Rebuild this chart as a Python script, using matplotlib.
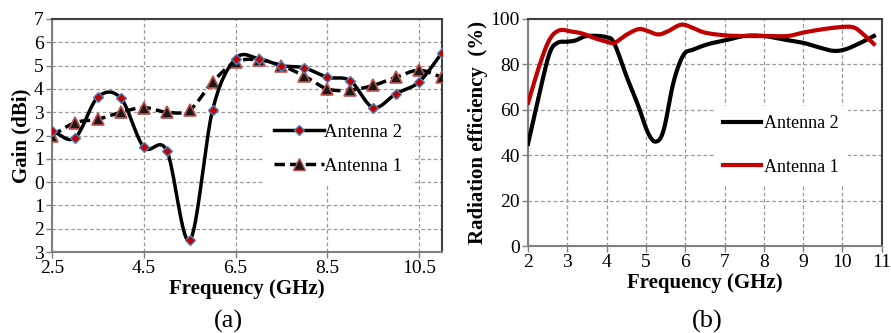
import numpy as np
import matplotlib
matplotlib.use('Agg')
import matplotlib.pyplot as plt
from matplotlib.lines import Line2D

plt.rcParams['font.family'] = ['Liberation Serif', 'DejaVu Serif']

# (a) gain data, every 0.5 GHz
freq_a = [2.5, 3.0, 3.5, 4.0, 4.5, 5.0, 5.5, 6.0, 6.5, 7.0, 7.5, 8.0, 8.5, 9.0, 9.5, 10.0, 10.5, 11.0]
gain_ant2 = [2.2, 1.9, 3.65, 3.6, 1.5, 1.35, -2.5, 3.1, 5.3, 5.3, 5.0, 4.9, 4.5, 4.35, 3.2, 3.8, 4.3, 5.55]
gain_ant1 = [2.0, 2.55, 2.7, 3.0, 3.2, 3.0, 3.1, 4.3, 5.15, 5.25, 5.0, 4.55, 4.0, 3.95, 4.15, 4.5, 4.8, 4.5]
gain_ticks = [-3, -2, -1, 0, 1, 2, 3, 4, 5, 6, 7]
gain_ticklabels = ['3', '2', '1', '0', '1', '2', '3', '4', '5', '6', '7']
freq_a_ticks = [2.5, 4.5, 6.5, 8.5, 10.5]

# (b) radiation efficiency
freq_b2 = [2.0, 2.3, 2.55, 2.75, 3.0, 3.2, 3.5, 4.0, 4.2, 4.5, 4.8, 5.05, 5.25, 5.45, 5.7, 5.95, 6.2, 6.6, 7.0, 7.5, 8.0, 8.5, 9.0, 9.4, 9.75, 10.05, 10.4, 10.8]
eff_ant2 = [45, 68, 85, 89.5, 90, 90.5, 92.5, 92, 89, 75, 62, 50, 46, 51, 72, 84, 86.5, 89, 90.5, 92.5, 92.5, 91, 89.5, 87.5, 86, 86.5, 89, 92.5]
freq_b1 = [2.0, 2.3, 2.55, 2.8, 3.1, 3.4, 3.7, 4.0, 4.2, 4.5, 4.8, 5.0, 5.3, 5.55, 5.9, 6.2, 6.5, 7.0, 7.5, 8.0, 8.6, 9.0, 9.5, 10.0, 10.3, 10.55, 10.8]
eff_ant1 = [63, 80, 91, 95, 94.5, 93.5, 91.5, 90, 89.5, 93, 95.5, 95, 93.2, 94.5, 97.5, 96, 94, 92.8, 92.5, 92.5, 92.5, 94, 95.5, 96.5, 96.2, 93, 89]


def smooth(x, y, n=20):
    # Catmull-Rom spline through the points (like Excel smoothed lines)
    x = np.asarray(x, float)
    y = np.asarray(y, float)
    px = np.concatenate([[2 * x[0] - x[1]], x, [2 * x[-1] - x[-2]]])
    py = np.concatenate([[2 * y[0] - y[1]], y, [2 * y[-1] - y[-2]]])
    xs, ys = [], []
    t = np.linspace(0, 1, n, endpoint=False)
    for i in range(1, len(px) - 2):
        for p, out in ((px, xs), (py, ys)):
            p0, p1, p2, p3 = p[i - 1], p[i], p[i + 1], p[i + 2]
            out.append(0.5 * (2 * p1 + (-p0 + p2) * t + (2 * p0 - 5 * p1 + 4 * p2 - p3) * t ** 2
                              + (-p0 + 3 * p1 - 3 * p2 + p3) * t ** 3))
    xs.append([x[-1]])
    ys.append([y[-1]])
    return np.concatenate(xs), np.concatenate(ys)


def style_axes(ax):
    ax.grid(True, color='#9a9a9a', linestyle=(0, (3, 2)), linewidth=0.9)
    ax.set_axisbelow(True)
    for s in ('left', 'bottom'):
        ax.spines[s].set_color('#808080')
        ax.spines[s].set_linewidth(1.5)
    for s in ('top', 'right'):
        ax.spines[s].set_color('#404040')
        ax.spines[s].set_linewidth(1.5)
    ax.tick_params(direction='out', length=4, width=1, color='#808080', labelsize=14, pad=2)


fig = plt.figure(figsize=(8.91, 3.33), dpi=100)

# ---- (a) Gain ----
ax1 = fig.add_axes([0.0584, 0.243, 0.4377, 0.70])
sx, sy = smooth(freq_a, gain_ant1)
ax1.plot(sx, sy, color='black', linewidth=2.5, linestyle=(0, (3, 1.5)), zorder=3)
ax1.plot(freq_a, gain_ant1, linestyle='none', marker='^', markersize=8,
         markerfacecolor='#1a1a1a', markeredgecolor='#c0504d', markeredgewidth=1.2, zorder=4)
sx, sy = smooth(freq_a, gain_ant2)
ax1.plot(sx, sy, color='black', linewidth=2.5, zorder=5)
ax1.plot(freq_a, gain_ant2, linestyle='none', marker='D', markersize=5.5,
         markerfacecolor='#c00000', markeredgecolor='#4f81bd', markeredgewidth=1.0, zorder=6)
ax1.set_xlim(2.5, 11)
ax1.set_ylim(-3, 7)
ax1.set_xticks(freq_a_ticks)
ax1.set_xticklabels([str(v) for v in freq_a_ticks])
ax1.set_yticks(gain_ticks)
ax1.set_yticklabels(gain_ticklabels)
style_axes(ax1)
ax1.set_xlabel('Frequency (GHz)', fontsize=15, fontweight='bold', labelpad=1)
ax1.set_ylabel('Gain (dBi)', fontsize=15, fontweight='bold', labelpad=2)

h2 = Line2D([], [], color='black', linewidth=2.5, marker='D', markersize=5.5,
            markerfacecolor='#c00000', markeredgecolor='#4f81bd')
h1 = Line2D([], [], color='black', linewidth=2.5, linestyle=(0, (3, 1.5)), marker='^', markersize=8,
            markerfacecolor='#1a1a1a', markeredgecolor='#c0504d')
leg = ax1.legend([h2, h1], ['Antenna 2', 'Antenna 1'], loc='center left',
                 bbox_to_anchor=(0.52, 0.442), frameon=True, fontsize=13.5, handlelength=2.7,
                 handletextpad=0.0, labelspacing=0.9, borderpad=0.5, fancybox=False)
leg.get_frame().set_edgecolor('none')
leg.get_frame().set_facecolor('white')
leg.get_frame().set_alpha(1)
leg.set_zorder(2)

# ---- (b) Radiation efficiency ----
ax2 = fig.add_axes([0.5926, 0.261, 0.397, 0.682])
sx, sy = smooth(freq_b2, eff_ant2)
ax2.plot(sx, sy, color='black', linewidth=3, zorder=3)
sx, sy = smooth(freq_b1, eff_ant1)
ax2.plot(sx, sy, color='#c00000', linewidth=3, zorder=4)
ax2.set_xlim(2, 11)
ax2.set_ylim(0, 100)
ax2.set_xticks(range(2, 12))
ax2.set_yticks(range(0, 101, 20))
style_axes(ax2)
ax2.set_xlabel('Frequency (GHz)', fontsize=15, fontweight='bold', labelpad=1)
ax2.set_ylabel('Radiation efficiency  (%)', fontsize=15, fontweight='bold', labelpad=2)

leg2 = ax2.legend([Line2D([], [], color='black', linewidth=3),
                   Line2D([], [], color='#c00000', linewidth=3)],
                  ['Antenna 2', 'Antenna 1'], loc='center left',
                  bbox_to_anchor=(0.50, 0.443), frameon=True, fontsize=13, handlelength=2.1,
                  handletextpad=0.2, labelspacing=1.45, borderpad=0.5, fancybox=False)
leg2.get_frame().set_edgecolor('none')
leg2.get_frame().set_facecolor('white')
leg2.get_frame().set_alpha(1)
leg2.set_zorder(2)

fig.text(0.256, 0.035, '(a)', fontsize=19, ha='center', va='center')
fig.text(0.794, 0.035, '(b)', fontsize=19, ha='center', va='center')

fig.savefig('out.png', dpi=100)
